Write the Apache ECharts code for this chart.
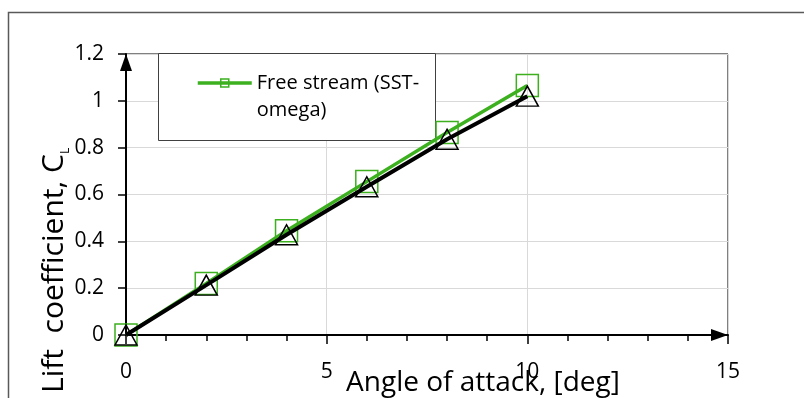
<!DOCTYPE html>
<html>
<head>
<meta charset="utf-8">
<script src="https://cdn.jsdelivr.net/npm/echarts@6/dist/echarts.min.js"></script>
<style>
  html, body { margin: 0; padding: 0; background: #fff; }
  #chart { width: 804px; height: 398px; }
</style>
</head>
<body>
<div id="chart"></div>
<script>
// Angle of attack [deg] and lift coefficient values
const angles = [0, 2, 4, 6, 8, 10];
const clFreeStream = [0, 0.22, 0.445, 0.655, 0.865, 1.065];
const clSecond = [0, 0.213, 0.428, 0.633, 0.836, 1.02];

// Axis tick values
const xTickValues = [0, 5, 10, 15];
const yTickValues = [0, 0.2, 0.4, 0.6, 0.8, 1, 1.2];

const seriesNames = ['Free stream (SST-omega)', 'Series 2'];

const FONT = "'Open Sans', sans-serif";
const GREEN = '#3cb01e';

const chart = echarts.init(document.getElementById('chart'), null, { renderer: 'canvas' });

const toPoints = (ys) => angles.map((a, i) => [a, ys[i]]);

const axisArrow = {
  symbol: ['none', 'triangle'],
  symbolSize: [12, 17],
  symbolOffset: [0, -8.5]
};

const option = {
  animation: false,
  backgroundColor: '#fff',
  grid: {
    left: 126, top: 54, right: 76, bottom: 63,
    show: true, borderColor: '#000', borderWidth: 1,
    backgroundColor: 'transparent'
  },
  xAxis: {
    type: 'value',
    min: xTickValues[0],
    max: xTickValues[xTickValues.length - 1],
    interval: xTickValues[1] - xTickValues[0],
    axisLine: Object.assign({ show: true, onZero: false, lineStyle: { color: '#000', width: 2 } }, axisArrow),
    axisTick: { show: true, length: 9, lineStyle: { color: '#000', width: 1.5 } },
    minorTick: { show: true, splitNumber: 5, length: 6, lineStyle: { color: '#000', width: 1.5 } },
    axisLabel: { margin: 27, fontSize: 21, color: '#000', fontFamily: FONT },
    splitLine: { show: true, lineStyle: { color: '#d9d9d9', width: 1 } }
  },
  yAxis: {
    type: 'value',
    min: yTickValues[0],
    max: yTickValues[yTickValues.length - 1],
    interval: 0.2,
    axisLine: Object.assign({ show: true, onZero: false, lineStyle: { color: '#000', width: 2 } }, axisArrow),
    axisTick: { show: true, length: 8, lineStyle: { color: '#000', width: 1.5 } },
    axisLabel: { margin: 22, fontSize: 21, color: '#000', fontFamily: FONT },
    splitLine: { show: true, lineStyle: { color: '#d9d9d9', width: 1 } }
  },
  legend: {
    data: [seriesNames[0]],
    left: 196,
    top: 42.5,
    padding: 0,
    itemWidth: 54,
    itemHeight: 10,
    z: 5,
    selectedMode: false,
    lineStyle: { width: 3.5, color: GREEN },
    itemStyle: { borderWidth: 1.5 },
    // leading blank line keeps the first text line level with the icon
    formatter: () => ' \nFree stream (SST-\nomega)',
    textStyle: { fontSize: 20, lineHeight: 27, color: '#000', fontFamily: FONT }
  },
  graphic: [
    {
      type: 'rect', z: 0, silent: true,
      shape: { x: 8.5, y: 12.5, width: 830, height: 420 },
      style: { fill: 'none', stroke: '#595959', lineWidth: 1.5 }
    },
    {
      type: 'rect', z: 1, silent: true,
      shape: { x: 158.5, y: 53.5, width: 277, height: 87 },
      style: { fill: '#fff', stroke: '#404040', lineWidth: 1 }
    },
    {
      type: 'text', z: 3, silent: true,
      x: 54, y: 393, rotation: Math.PI / 2,
      style: {
        text: '{m|Lift  coefficient, C}{s|L}',
        align: 'left', verticalAlign: 'middle',
        rich: {
          m: { fontSize: 30, lineHeight: 36, fontFamily: FONT, fill: '#000' },
          s: { fontSize: 12, height: 12, padding: [13, 0, 0, 0], verticalAlign: 'bottom', fontFamily: FONT, fill: '#000' }
        }
      }
    },
    {
      type: 'text', z: 3, silent: true,
      x: 483, y: 383,
      style: {
        text: 'Angle of attack, [deg]',
        align: 'center', verticalAlign: 'middle',
        fontSize: 28, fontFamily: FONT, fill: '#000'
      }
    }
  ],
  series: [
    {
      name: seriesNames[0],
      type: 'line',
      data: toPoints(clFreeStream),
      symbol: 'rect',
      symbolSize: 22,
      showAllSymbol: true,
      z: 2,
      lineStyle: { color: GREEN, width: 3.5 },
      itemStyle: { color: 'rgba(255,255,255,0)', borderColor: GREEN, borderWidth: 1.5 },
      emphasis: { disabled: true }
    },
    {
      name: seriesNames[1],
      type: 'line',
      data: toPoints(clSecond),
      symbol: 'triangle',
      symbolSize: [22, 20],
      showAllSymbol: true,
      z: 3,
      lineStyle: { color: '#000', width: 4 },
      itemStyle: { color: 'rgba(255,255,255,0)', borderColor: '#000', borderWidth: 1.5 },
      emphasis: { disabled: true }
    }
  ]
};

chart.setOption(option);
</script>
</body>
</html>
